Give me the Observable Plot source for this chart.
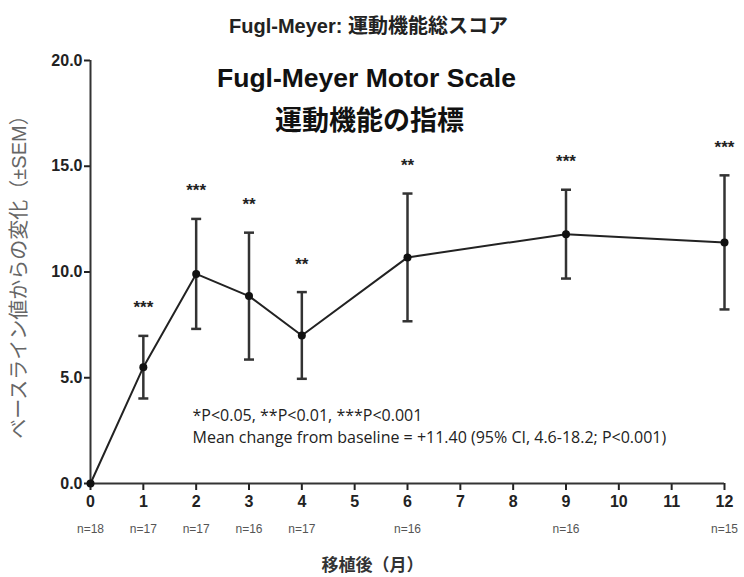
<!DOCTYPE html>
<html><head><meta charset="utf-8">
<script src="https://cdn.jsdelivr.net/npm/d3@7"></script>
<script src="https://cdn.jsdelivr.net/npm/@observablehq/plot@0.6"></script>
<style>body{margin:0;background:#fff;}</style>
</head><body><div id="chart"></div>
<script>
const months = [0, 1, 2, 3, 4, 6, 9, 12];
const means = [0, 5.50, 9.91, 8.86, 7.00, 10.69, 11.79, 11.40];
const sems = [0, 1.48, 2.60, 3.00, 2.05, 3.02, 2.10, 3.17];
const stars = ["", "***", "***", "**", "**", "**", "***", "***"];
const nCounts = [18, 17, 17, 16, 17, 16, 16, 15];
const yTicks = [0, 5, 10, 15, 20];
const xTicks = [0, 1, 2, 3, 4, 5, 6, 7, 8, 9, 10, 11, 12];
const topTitle = "Fugl-Meyer: 運動機能総スコア";
const innerTitle1 = "Fugl-Meyer Motor Scale";
const innerTitle2 = "運動機能の指標";
const note1 = "*P<0.05, **P<0.01, ***P<0.001";
const note2 = "Mean change from baseline = +11.40 (95% CI, 4.6-18.2; P<0.001)";
const yLabel = "ベースライン値からの変化（±SEM）";
const xLabel = "移植後（月）";

const data = months.map((m, i) => ({month: m, mean: means[i], sem: sems[i], star: stars[i], n: nCounts[i]}));
const eb = data.filter(d => d.sem > 0);
const cap = {draw(ctx) { ctx.moveTo(-5, 0); ctx.lineTo(5, 0); }};
const sans = "'Liberation Sans','Noto Sans CJK JP',sans-serif";

const chart = Plot.plot({
  width: 744, height: 577,
  marginTop: 60, marginLeft: 90, marginRight: 20, marginBottom: 94,
  style: {fontFamily: sans, background: "#fff", color: "#222"},
  x: {domain: [0, 12]},
  y: {domain: [0, 20]},
  marks: [
    Plot.axisX({ticks: xTicks, tickSize: 7, tickPadding: 5, tickFormat: d => d, fontSize: 16, fontWeight: "bold", label: null, strokeWidth: 2, color: "#222"}),
    Plot.axisY({ticks: yTicks, tickSize: 6, tickPadding: 2, tickFormat: d => d.toFixed(1), fontSize: 16, fontWeight: "bold", label: null, strokeWidth: 2, color: "#222"}),
    Plot.ruleY([0], {stroke: "#333", strokeWidth: 2}),
    Plot.ruleX([0], {stroke: "#333", strokeWidth: 2}),
    Plot.ruleX(eb, {x: "month", y1: d => d.mean - d.sem, y2: d => d.mean + d.sem, stroke: "#333", strokeWidth: 2.5}),
    Plot.dot(eb, {x: "month", y: d => d.mean - d.sem, symbol: cap, fill: "none", stroke: "#333", strokeWidth: 2.5}),
    Plot.dot(eb, {x: "month", y: d => d.mean + d.sem, symbol: cap, fill: "none", stroke: "#333", strokeWidth: 2.5}),
    Plot.line(data, {x: "month", y: "mean", stroke: "#222", strokeWidth: 2}),
    Plot.dot(data, {x: "month", y: "mean", r: 4, fill: "#111"}),
    Plot.text(eb, {x: "month", y: d => d.mean + d.sem, text: "star", dy: -28, fontSize: 17, fontWeight: "bold", fill: "#222"}),
    Plot.text(data, {x: "month", text: d => "n=" + d.n, frameAnchor: "bottom", dy: 49, fontSize: 12, fill: "#555"}),
    Plot.text([xLabel], {text: d => d, frameAnchor: "bottom", dx: -35, dy: 87, fontSize: 17, fontWeight: "bold", fill: "#333"}),
    Plot.text([yLabel], {text: d => d, frameAnchor: "left", textAnchor: "middle", rotate: -90, dx: -71, fontSize: 20, fill: "#666"}),
    Plot.text([topTitle], {text: d => d, frameAnchor: "top", dx: -39, dy: -42, fontSize: 20, fontWeight: "bold", fill: "#222"}),
    Plot.text([innerTitle1], {text: d => d, frameAnchor: "top", dx: -41, dy: 8, fontSize: 26.5, fontWeight: "bold", fill: "#111"}),
    Plot.text([innerTitle2], {text: d => d, frameAnchor: "top", dx: -38, dy: 50, fontSize: 27, fontWeight: "bold", fill: "#111"}),
    Plot.text([note1], {text: d => d, frameAnchor: "bottom-left", textAnchor: "start", dx: 102, dy: -63, fontSize: 16, fontFamily: "'Open Sans',sans-serif", fill: "#222"}),
    Plot.text([note2], {text: d => d, frameAnchor: "bottom-left", textAnchor: "start", dx: 102, dy: -41, fontSize: 16, fontFamily: "'Open Sans',sans-serif", fill: "#222"})
  ]
});
document.getElementById("chart").appendChild(chart);
</script>
</body></html>
